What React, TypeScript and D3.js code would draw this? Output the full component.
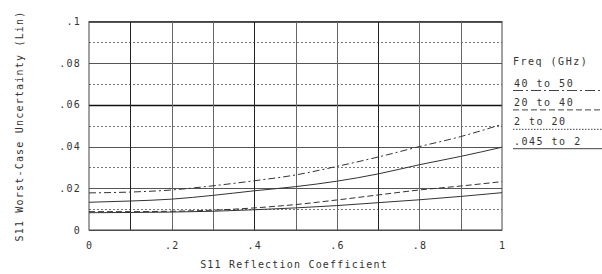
import React from 'react';
import * as d3 from 'd3';

// S11 reflection coefficient (x) and worst-case uncertainty per band (y)
const reflection = [0, 0.1, 0.2, 0.3, 0.4, 0.5, 0.6, 0.7, 0.8, 0.9, 1.0];
const band40to50 = [0.0178, 0.0182, 0.0192, 0.0212, 0.0236, 0.0264, 0.0305, 0.0350, 0.0400, 0.0448, 0.0507];
const band20to40 = [0.0133, 0.0139, 0.0148, 0.0166, 0.0188, 0.0208, 0.0234, 0.0269, 0.0313, 0.0353, 0.0397];
const band2to20 = [0.0088, 0.0088, 0.0090, 0.0095, 0.0106, 0.0122, 0.0144, 0.0168, 0.0192, 0.0211, 0.0232];
const band045to2 = [0.0083, 0.0084, 0.0086, 0.0090, 0.0097, 0.0106, 0.0117, 0.0131, 0.0145, 0.0161, 0.0179];

const legendLabels = ['40 to 50', '20 to 40', '2 to 20', '.045 to 2'];
const xTickValues = [0, 0.2, 0.4, 0.6, 0.8, 1];
const xTickLabels = ['0', '.2', '.4', '.6', '.8', '1'];
const yTickValues = [0, 0.02, 0.04, 0.06, 0.08, 0.1];
const yTickLabels = ['0', '.02', '.04', '.06', '.08', '.1'];

const font = '"DejaVu Sans Mono", monospace';

const App: React.FC = () => {
  const margin = { top: 21.5, left: 89 };
  const width = 413, height = 208.5;

  const x = d3.scaleLinear().domain([0, 1]).range([margin.left, margin.left + width]);
  const y = d3.scaleLinear().domain([0, 0.1]).range([margin.top + height, margin.top]);

  const series = [
    { values: band40to50, dash: '7,3,2,3' },
    { values: band20to40, dash: null },
    { values: band2to20, dash: '6,3' },
    { values: band045to2, dash: null },
  ];
  const legendDash = ['10,3,2,3', '6,3', '1.5,1.5', null];

  const line = d3.line<number>()
    .x((_, i) => x(reflection[i]))
    .y(d => y(d))
    .curve(d3.curveMonotoneX);

  const solidY = d3.range(0, 0.1001, 0.02);
  const dottedY = d3.range(0.01, 0.1, 0.02);
  const vert = d3.range(0.1, 0.95, 0.1);

  return (
    <svg width={602} height={274} style={{ position: 'absolute', left: 0, top: 0, background: '#fff' }}>
      {/* dotted minor gridlines */}
      {dottedY.map(v => (
        <line key={'d' + v} x1={x(0)} x2={x(1)} y1={Math.round(y(v)) + 0.5} y2={Math.round(y(v)) + 0.5}
          stroke="#777" strokeDasharray="2,2" strokeWidth={1} />
      ))}
      {solidY.map(v => (
        <line key={'s' + v} x1={x(0)} x2={x(1)} y1={Math.round(y(v)) + 0.5} y2={Math.round(y(v)) + 0.5}
          stroke={Math.abs(v - 0.06) < 1e-6 ? '#111' : '#555'} strokeWidth={Math.abs(v - 0.06) < 1e-6 ? 1.5 : 1} />
      ))}
      {vert.map((v, i) => (
        <line key={'v' + i} x1={Math.round(x(v)) + 0.5} x2={Math.round(x(v)) + 0.5} y1={y(0.1)} y2={y(0)}
          stroke={i === 0 || i === 3 || i === 6 ? '#222' : '#666'} strokeWidth={1} />
      ))}
      <rect x={x(0)} y={y(0.1)} width={width} height={height} fill="none" stroke="#444" strokeWidth={1} />

      {/* curves */}
      {series.map((s, i) => (
        <path key={'c' + i} d={line(s.values) || ''} fill="none" stroke="#333" strokeWidth={1}
          strokeDasharray={s.dash || undefined} />
      ))}

      {/* y tick labels */}
      {yTickValues.map((v, i) => (
        <text key={'yt' + i} x={81} y={y(v) + 3.5} textAnchor="end" fontFamily={font} fontSize={10}
          letterSpacing={1.2} fill="#333">{yTickLabels[i]}</text>
      ))}
      {/* x tick labels */}
      {xTickValues.map((v, i) => (
        <text key={'xt' + i} x={x(v) + 0.6} y={249} textAnchor="middle" fontFamily={font} fontSize={10}
          letterSpacing={1.2} fill="#333">{xTickLabels[i]}</text>
      ))}

      <text x={294} y={268} textAnchor="middle" fontFamily={font} fontSize={10} letterSpacing={1.2} fill="#333">
        S11 Reflection Coefficient
      </text>
      <text transform="translate(23,126) rotate(-90)" textAnchor="middle" fontFamily={font} fontSize={10}
        letterSpacing={1.2} fill="#333">
        S11 Worst-Case Uncertainty (Lin)
      </text>

      {/* legend */}
      <text x={513} y={65} fontFamily={font} fontSize={10} letterSpacing={1.5} fill="#333">Freq (GHz)</text>
      {legendLabels.map((lab, i) => (
        <g key={'lg' + i}>
          <text x={514} y={86.5 + i * 19.4} fontFamily={font} fontSize={10} letterSpacing={1.5} fill="#333">{lab}</text>
          <line x1={513} x2={602} y1={90.5 + i * 19.4} y2={90.5 + i * 19.4} stroke="#444" strokeWidth={1}
            strokeDasharray={legendDash[i] || undefined} />
        </g>
      ))}
    </svg>
  );
};

export default App;
